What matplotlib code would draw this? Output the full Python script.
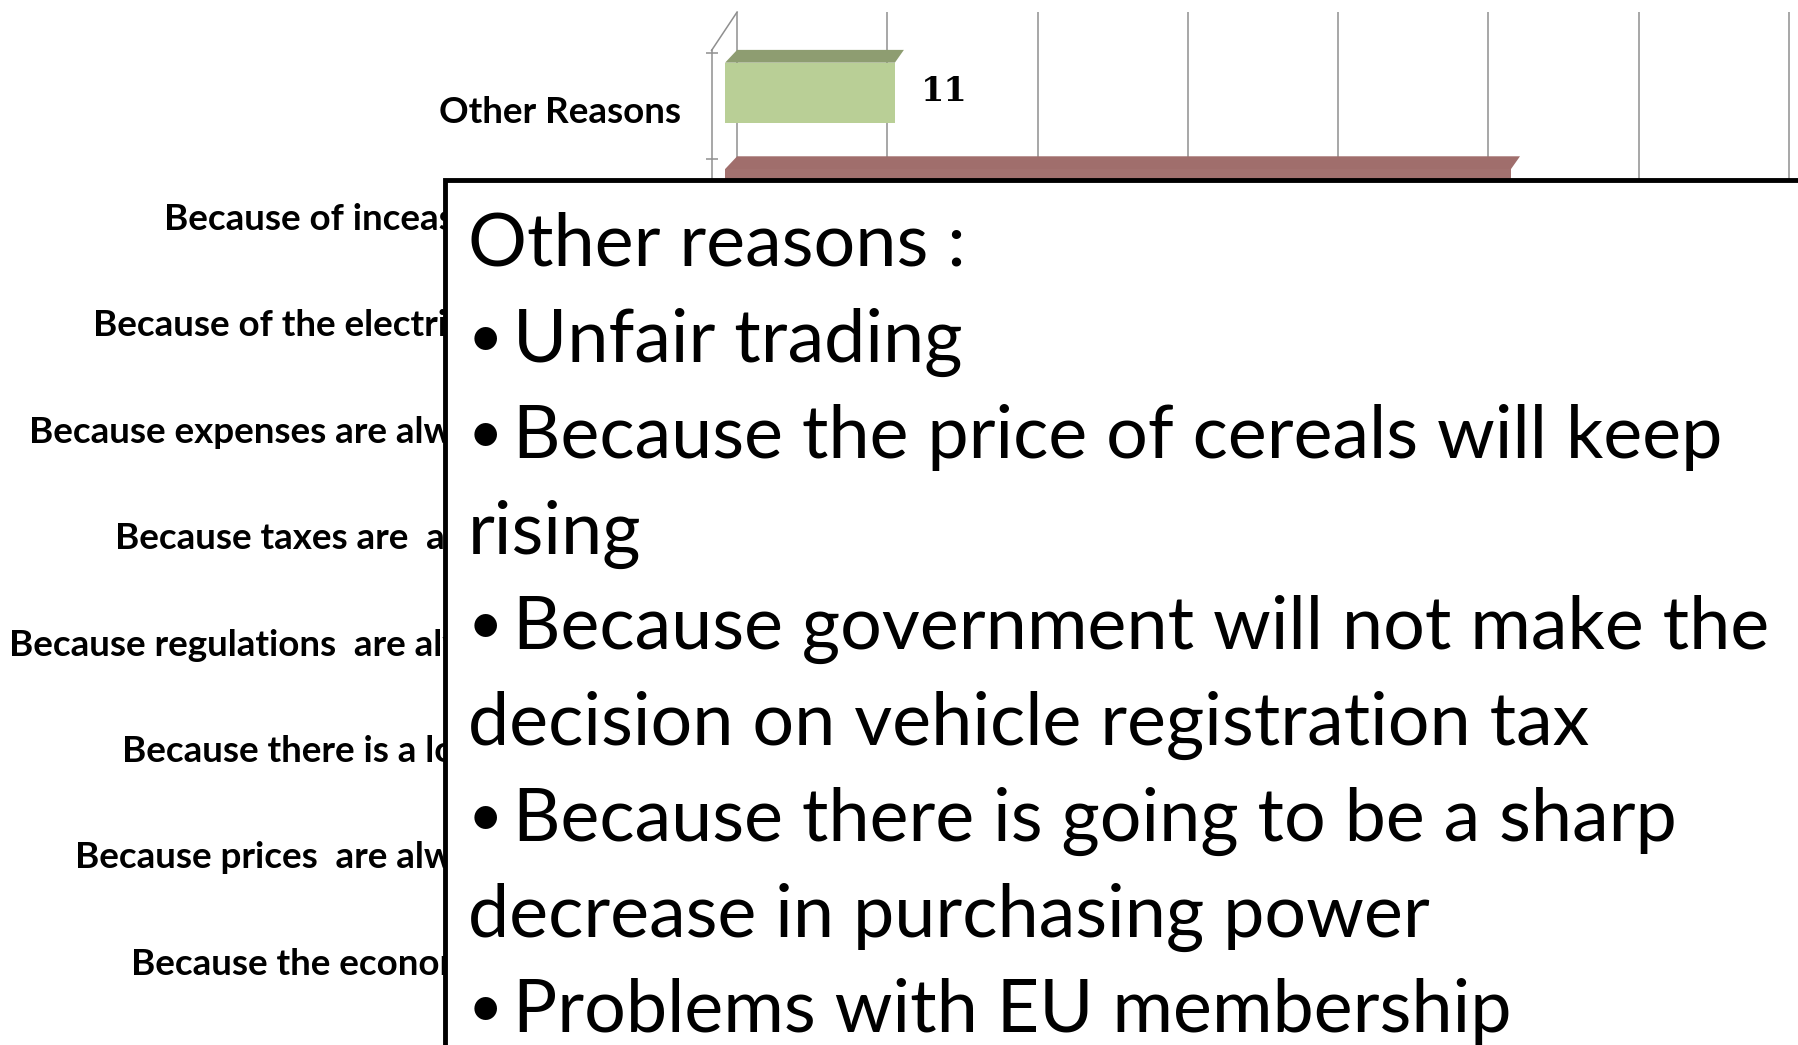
import matplotlib
matplotlib.use("Agg")
import matplotlib.pyplot as plt
from matplotlib.patches import Polygon, Rectangle
from matplotlib.transforms import ScaledTranslation
import numpy as np

# categories (top to bottom); only the first two bars are visible, the rest sit under the note box
categories = [
    "Other Reasons",
    "Because of inceasing fuel prices",
    "Because of the electricity price rises",
    "Because expenses are always increasing",
    "Because taxes are  always too high",
    "Because regulations  are always changing",
    "Because there is a lot of instability",
    "Because prices  are always increasing",
    "Because the economy is in a crisis",
]
values = [11, 52]
front_colors = ["#B9CF96", "#A37270"]
top_colors = ["#8E9D71", "#A06E6C"]

note_lines = [
    "Other reasons :",
    "\u2022 Unfair trading",
    "\u2022 Because the price of cereals will keep",
    "rising",
    "\u2022 Because government will not make the",
    "decision on vehicle registration tax",
    "\u2022 Because there is going to be a sharp",
    "decrease in purchasing power",
    "\u2022 Problems with EU membership",
]

W, H = 1798, 1045
fig = plt.figure(figsize=(W / 100, H / 100), dpi=100)
ax = fig.add_axes([700 / W, 0, 1 - 700 / W, 1 - 12 / H])

pos = np.arange(len(categories))
ax.set_xlim(-2.47, 70.6)
ax.set_ylim(8.947, -0.761)

grid_c = "#8f8f8f"
ax.set_xticks(np.arange(0, 71, 10))
ax.tick_params(axis="x", length=0, labelbottom=False)
ax.grid(axis="x", color=grid_c, lw=1.1)
ax.set_axisbelow(True)

for s in ["top", "right", "bottom"]:
    ax.spines[s].set_visible(False)
wall_x = -1.7
ax.spines["left"].set_position(("data", wall_x))
ax.spines["left"].set_color(grid_c)
ax.spines["left"].set_linewidth(1.1)
ax.spines["left"].set_bounds(-0.40, 8.947)
ax.plot([wall_x, 0], [-0.40, -0.761], color=grid_c, lw=1.1, clip_on=False)

# bars: front face plus a darker top face to mimic the 3D look
bh = 0.57
dx, dy = 0.8, 0.12
for i, v in enumerate(values):
    ax.barh(pos[i], v + 0.3, left=-dx, height=bh, color=front_colors[i], zorder=3)
    yf = pos[i] - bh / 2
    top = Polygon([(-dx, yf), (v - dx + 0.3, yf), (v + 0.1, yf - dy), (0, yf - dy)],
                  closed=True, facecolor=top_colors[i], edgecolor="none", zorder=3)
    ax.add_patch(top)
    ax.text(v + 1.2, pos[i] + 0.08, str(v), fontfamily="DejaVu Serif", fontweight="bold",
            fontsize=24, va="baseline", ha="left", zorder=4)

ax.set_yticks(pos)
ax.set_yticklabels(categories, fontfamily="Lato", fontweight="bold", fontsize=26.5)
ax.tick_params(axis="y", which="major", length=0, pad=22)
ax.set_yticks(np.arange(len(categories) + 1) - 0.38, minor=True)
ax.tick_params(axis="y", which="minor", direction="inout", length=9, width=1.1, color=grid_c)
shift = ScaledTranslation(0, -0.17, fig.dpi_scale_trans)
for lab in ax.get_yticklabels():
    lab.set_transform(lab.get_transform() + shift)

# note box covering most of the chart
box = Rectangle((445 / W, -0.1), 1.0, (1 - 180 / H) + 0.1, transform=fig.transFigure,
                facecolor="white", edgecolor="black", lw=3.5, zorder=4)
fig.add_artist(box)

x0, x_indent = 468, 513
base0, step = 266, 95.8
for i, line in enumerate(note_lines):
    yb = 1 - (base0 + i * step) / H
    if line.startswith("\u2022"):
        fig.text(x0 / W, yb + 5 / H, "\u2022", fontfamily="Lato", fontsize=44,
                 va="baseline", ha="left", zorder=5)
        fig.text(x_indent / W, yb, line[1:].strip(), fontfamily="Lato", fontsize=53,
                 va="baseline", ha="left", zorder=5)
    else:
        fig.text(x0 / W, yb, line, fontfamily="Lato", fontsize=53,
                 va="baseline", ha="left", zorder=5)

fig.savefig("out.png", dpi=100)
